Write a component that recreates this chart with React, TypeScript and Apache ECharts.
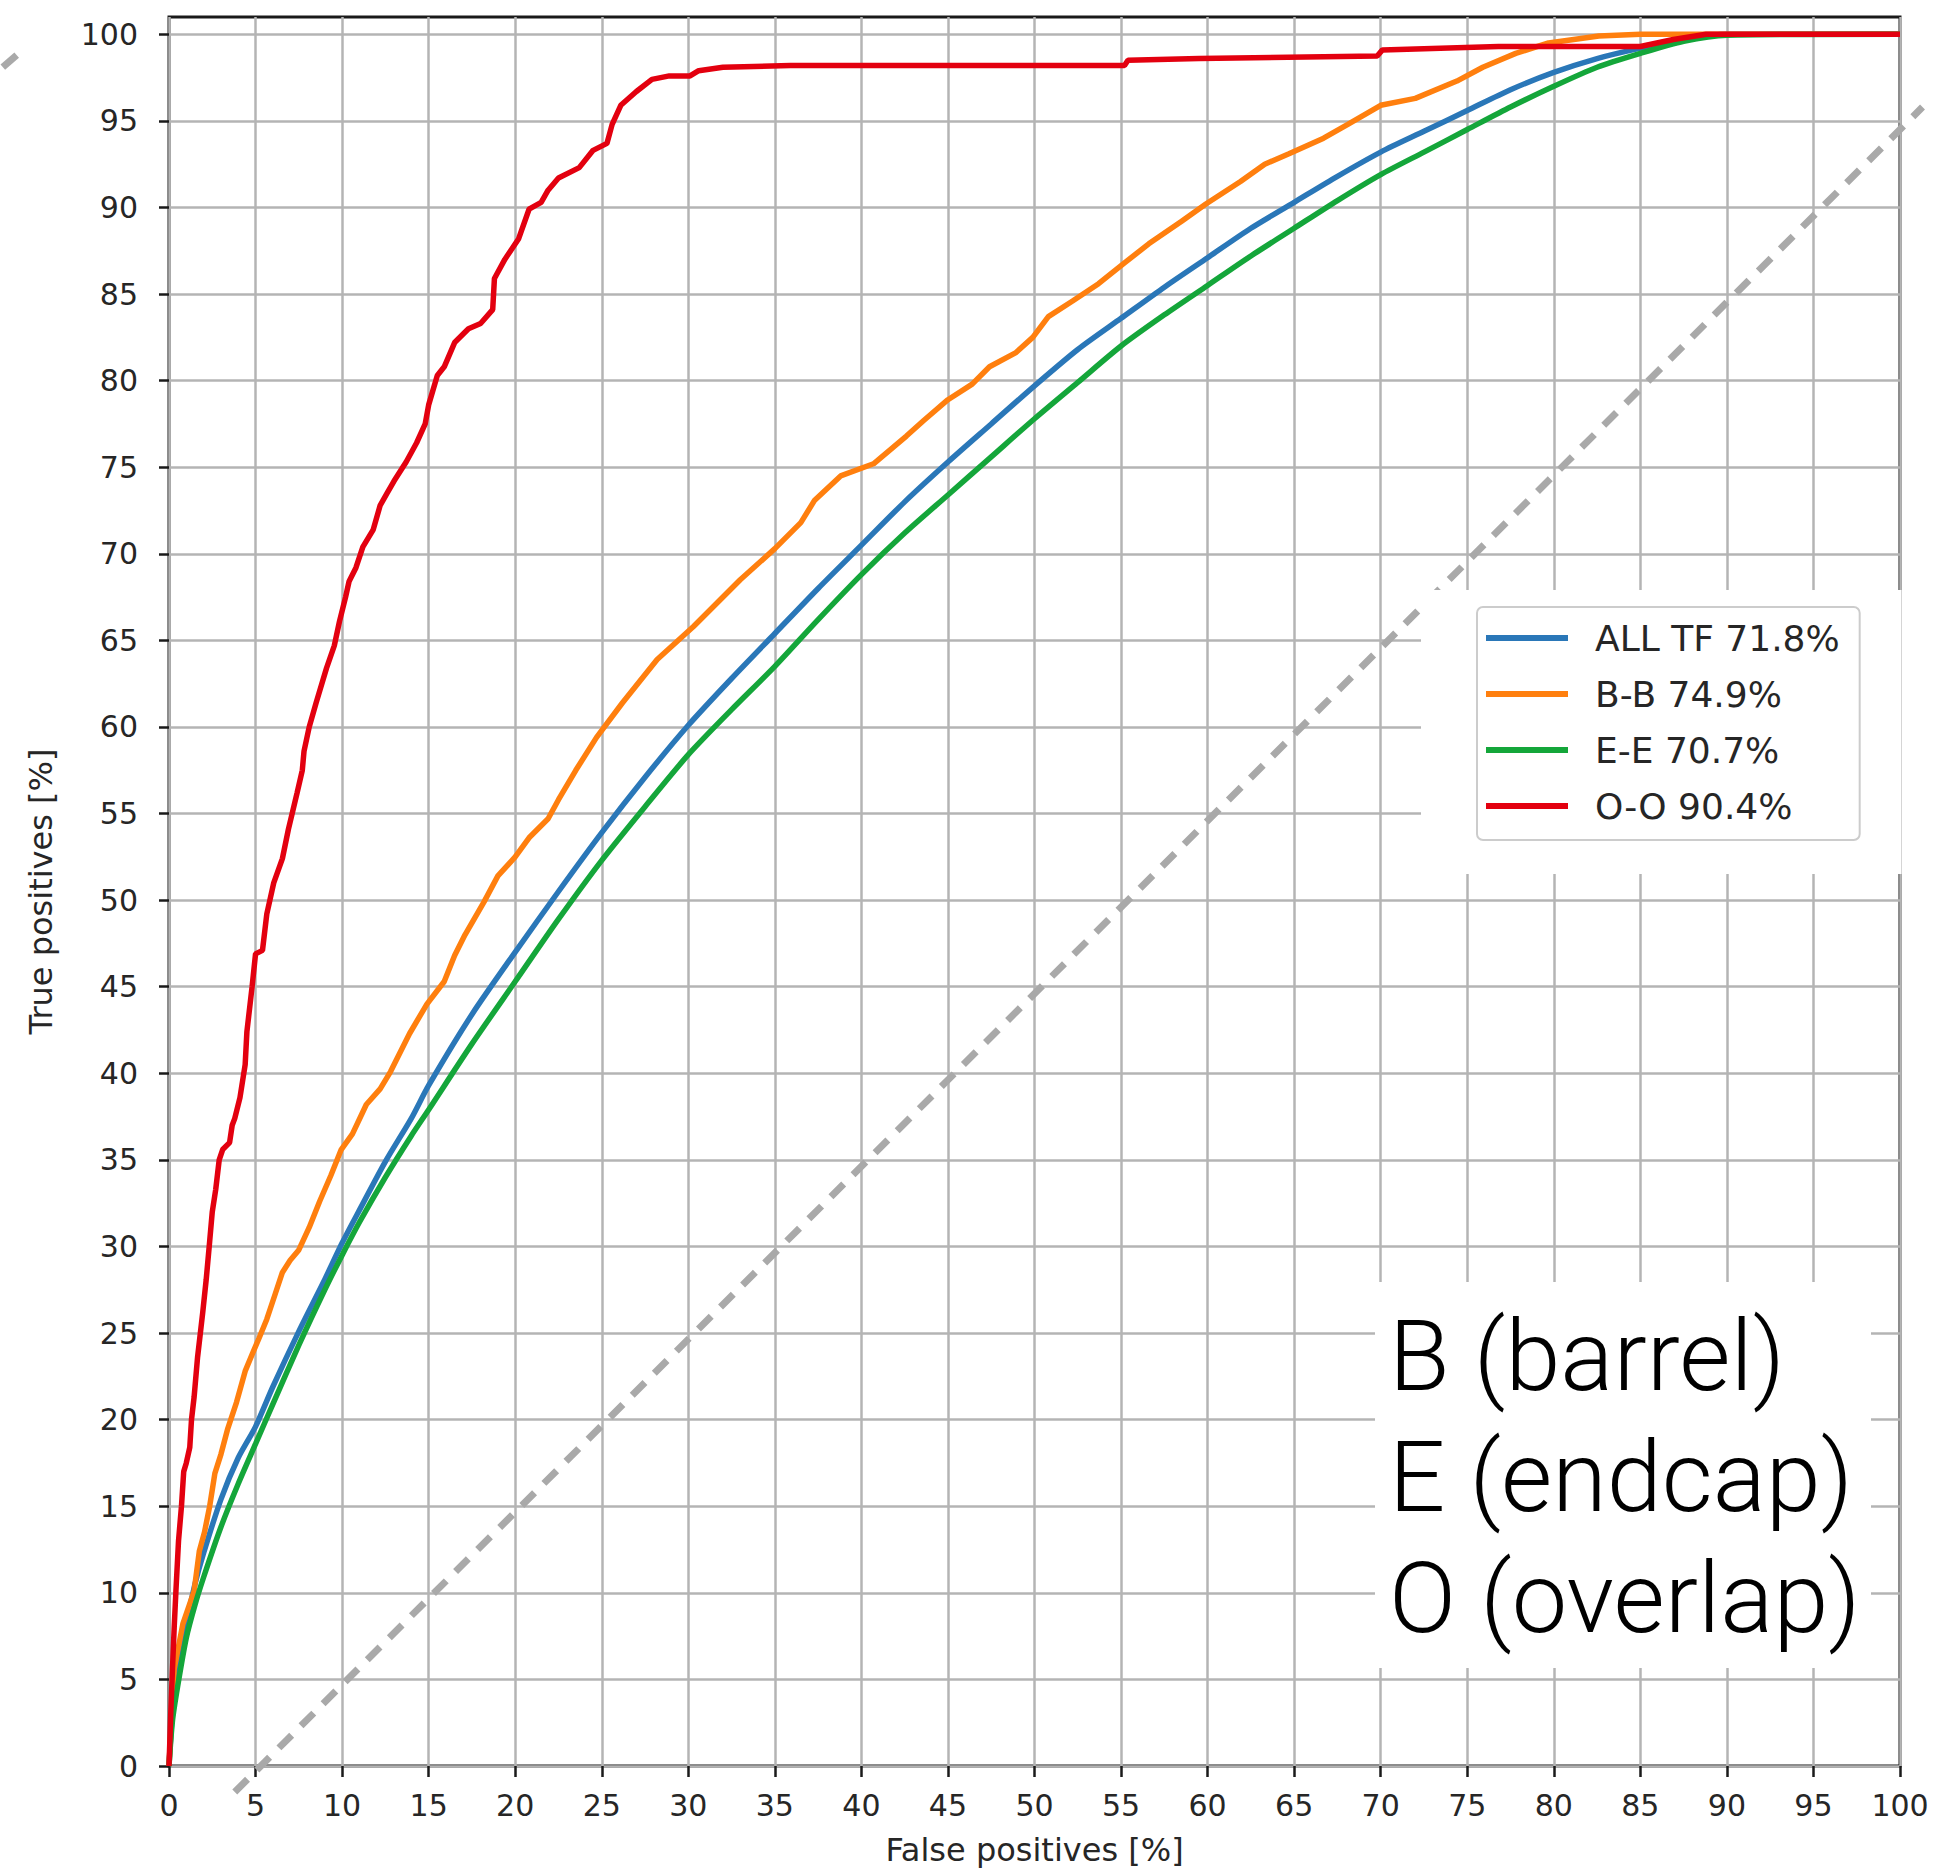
import React, { useEffect, useRef } from "react";
import * as echarts from "echarts";

const xTicks = [0, 5, 10, 15, 20, 25, 30, 35, 40, 45, 50, 55, 60, 65, 70, 75, 80, 85, 90, 95, 100];
const yTicks = [0, 5, 10, 15, 20, 25, 30, 35, 40, 45, 50, 55, 60, 65, 70, 75, 80, 85, 90, 95, 100];

const seriesNames = ["ALL TF 71.8%", "B-B 74.9%", "E-E 70.7%", "O-O 90.4%"];
const seriesColors = ["#2a77b8", "#ff7f0e", "#14a63a", "#e3000f"];
const seriesSmooth = [0.25, 0, 0.25, 0];

const allTF = [
  [0, 0], [0.2, 3], [0.5, 5.2], [1, 8.2], [1.5, 10.5], [2, 12.3], [3, 15.4], [4, 17.8], [5, 19.6],
  [6, 21.9], [7.5, 25.1], [9, 28.1], [10, 30.2], [11, 32.1], [12.5, 34.9], [14, 37.4], [15, 39.3],
  [17.5, 43.4], [20, 47.0], [22.5, 50.5], [25, 53.9], [27.5, 57.1], [30, 60.1], [32.5, 62.8],
  [35, 65.4], [37.5, 68.0], [40, 70.5], [42.5, 73.0], [45, 75.3], [47.5, 77.5], [50, 79.7],
  [52.5, 81.8], [55, 83.6], [57.5, 85.4], [60, 87.1], [62.5, 88.8], [65, 90.3], [67.5, 91.8],
  [70, 93.2], [72.5, 94.4], [75, 95.6], [77.5, 96.8], [80, 97.8], [82.5, 98.6], [85, 99.2],
  [87.5, 99.7], [90, 100], [100, 100],
];

const bb = [
  [0, 0], [0.3, 5.6], [0.8, 8.2], [1.45, 10.1], [1.75, 12.4], [2.05, 13.5], [2.35, 15], [2.65, 16.9],
  [3.0, 18], [3.4, 19.5], [3.9, 21], [4.4, 22.8], [4.9, 24], [5.2, 24.7], [5.65, 25.8], [6.15, 27.3],
  [6.55, 28.5], [7.0, 29.2], [7.5, 29.8], [8.1, 31.1], [8.7, 32.6], [9.35, 34.1], [9.95, 35.6],
  [10.6, 36.5], [11.4, 38.2], [12.2, 39.1], [12.8, 40.1], [13.9, 42.3], [14.9, 44], [15.9, 45.3],
  [16.5, 46.8], [17.1, 48], [18.2, 49.9], [19, 51.4], [20, 52.5], [20.8, 53.6], [21.9, 54.7],
  [22.5, 55.8], [23.5, 57.5], [24.7, 59.4], [26.2, 61.4], [28.2, 63.9], [30.3, 65.8], [31.7, 67.2],
  [33, 68.5], [35, 70.3], [36.5, 71.8], [37.3, 73.1], [38.8, 74.5], [40.7, 75.2], [42.6, 76.8],
  [43.6, 77.7], [45, 78.9], [46.4, 79.8], [47.4, 80.8], [48.9, 81.6], [49.9, 82.5], [50.8, 83.7],
  [52.2, 84.6], [53.7, 85.6], [55.2, 86.8], [56.6, 87.9], [58.5, 89.2], [59.9, 90.2], [61.9, 91.5],
  [63.3, 92.5], [64.7, 93.1], [66.7, 94.0], [68.1, 94.8], [70, 95.9], [72, 96.3], [74.4, 97.3],
  [75.9, 98.1], [77.8, 98.9], [79.7, 99.5], [82.6, 99.9], [85, 100], [100, 100],
];

const ee = [
  [0, 0], [0.2, 2.6], [0.5, 4.6], [1, 7.4], [1.5, 9.3], [2, 10.9], [3, 13.8], [4, 16.3], [5, 18.6],
  [6, 20.9], [7.5, 24.3], [9, 27.5], [10, 29.5], [11, 31.4], [12.5, 34.0], [14, 36.4], [15, 37.9],
  [17.5, 41.7], [20, 45.3], [22.5, 48.9], [25, 52.3], [27.5, 55.4], [30, 58.4], [32.5, 61.0],
  [35, 63.5], [37.5, 66.2], [40, 68.8], [42.5, 71.2], [45, 73.4], [47.5, 75.6], [50, 77.8],
  [52.5, 79.9], [55, 82.0], [57.5, 83.8], [60, 85.5], [62.5, 87.2], [65, 88.8], [67.5, 90.4],
  [70, 91.9], [72.5, 93.2], [75, 94.5], [77.5, 95.8], [80, 97.0], [82.5, 98.1], [85, 98.9],
  [87.5, 99.6], [90, 99.95], [100, 100],
];

const oo = [
  [0, 0], [0.1, 3], [0.2, 5.6], [0.3, 8], [0.4, 10.1], [0.55, 13], [0.72, 15], [0.85, 17], [1.0, 17.5],
  [1.2, 18.4], [1.3, 20], [1.45, 21.3], [1.65, 23.6], [1.95, 26.2], [2.15, 28.1], [2.35, 30.3],
  [2.5, 32], [2.7, 33.3], [2.9, 35], [3.1, 35.6], [3.5, 36], [3.65, 37], [3.8, 37.4], [4.1, 38.6],
  [4.4, 40.5], [4.5, 42.4], [4.8, 45], [5.0, 46.9], [5.4, 47.1], [5.65, 49.2], [6.05, 51],
  [6.55, 52.4], [6.9, 54.1], [7.4, 56.2], [7.7, 57.5], [7.8, 58.6], [8.1, 60], [8.5, 61.4],
  [9.1, 63.4], [9.55, 64.7], [9.85, 66.1], [10.2, 67.5], [10.4, 68.4], [10.8, 69.2], [11.2, 70.4],
  [11.8, 71.4], [12.2, 72.8], [12.6, 73.5], [13.0, 74.2], [13.7, 75.3], [14.3, 76.4], [14.8, 77.5],
  [15.0, 78.6], [15.5, 80.3], [15.9, 80.8], [16.5, 82.2], [17.3, 83.0], [18.0, 83.3], [18.7, 84.1],
  [18.8, 85.9], [19.4, 87.0], [20.2, 88.2], [20.8, 89.9], [21.5, 90.3], [21.9, 91.0], [22.5, 91.7],
  [23.7, 92.3], [24.5, 93.3], [25.3, 93.7], [25.6, 94.8], [26.1, 95.9], [27.0, 96.7], [27.9, 97.4],
  [28.9, 97.6], [30.1, 97.6], [30.6, 97.9], [32, 98.1], [35.9, 98.2], [55.2, 98.2], [55.4, 98.5],
  [59.5, 98.6], [69.8, 98.75], [70.1, 99.1], [76.8, 99.3], [85, 99.3], [86.9, 99.7], [88.8, 100],
  [100, 100],
];

const seriesData = [allTF, bb, ee, oo];

// overlaid grey dashed diagonal and a stray dash at top-left (data coordinates, extend past the axes)
const diagonal = [[3.8, -1.5], [101.3, 95.8]];
const strayDash = [[-9.6, 98.1], [-8.8, 98.8]];

const annotationText = "B (barrel)\nE (endcap)\nO (overlap)";

const tickFont = "'DejaVu Sans', sans-serif";

export default function App() {
  const ref = useRef<HTMLDivElement>(null);

  useEffect(() => {
    if (!ref.current) return;
    const chart = echarts.init(ref.current, null, { renderer: "svg" });

    const curveSeries = seriesNames.map((name, i) => ({
      name,
      type: "line",
      data: seriesData[i],
      showSymbol: false,
      symbol: "none",
      smooth: seriesSmooth[i],
      lineStyle: { width: 5.5, color: seriesColors[i] },
      itemStyle: { color: seriesColors[i] },
      z: 3,
    }));

    const baseGraphic: any[] = [
      {
        type: "rect",
        z: 10,
        shape: { x: 1421, y: 590, width: 480.5, height: 284 },
        style: { fill: "#ffffff" },
      },
      {
        type: "rect",
        z: 10,
        shape: { x: 1375, y: 1282, width: 496, height: 386 },
        style: { fill: "#ffffff" },
      },
      {
        type: "text",
        z: 11,
        x: 1389,
        y: 1295,
        style: {
          text: annotationText,
          fontSize: 99,
          fontFamily: "Roboto, 'Liberation Sans', sans-serif",
          fontWeight: 300,
          lineHeight: 121,
          fill: "#000000",
          verticalAlign: "top",
        },
      },
    ];

    chart.setOption({
      animation: false,
      backgroundColor: "#ffffff",
      grid: {
        left: 169,
        right: 38,
        top: 17,
        bottom: 103,
        show: true,
        borderColor: "#1a1a1a",
        borderWidth: 3,
        backgroundColor: "transparent",
      },
      xAxis: {
        type: "value",
        min: 0,
        max: 100,
        interval: 5,
        name: "False positives [%]",
        nameLocation: "middle",
        nameGap: 68,
        nameTextStyle: { fontSize: 32, fontFamily: tickFont, color: "#262626" },
        axisLine: { show: false },
        axisTick: { show: true, length: 11, inside: false, lineStyle: { color: "#1a1a1a", width: 2.5 } },
        axisLabel: {
          fontSize: 30,
          fontFamily: tickFont,
          color: "#262626",
          margin: 24,
          customValues: xTicks,
        },
        splitLine: { show: true, lineStyle: { color: "#b4b4b4", width: 2.5 } },
      },
      yAxis: {
        type: "value",
        min: 0,
        max: 101,
        interval: 5,
        name: "True positives [%]",
        nameLocation: "middle",
        nameGap: 112,
        nameRotate: 90,
        nameTextStyle: { fontSize: 32, fontFamily: tickFont, color: "#262626" },
        axisLine: { show: false },
        axisTick: {
          show: true,
          length: 10,
          inside: false,
          lineStyle: { color: "#1a1a1a", width: 2.5 },
          customValues: yTicks,
        },
        axisLabel: {
          fontSize: 30,
          fontFamily: tickFont,
          color: "#262626",
          margin: 31,
          customValues: yTicks,
        },
        splitLine: { show: true, lineStyle: { color: "#b4b4b4", width: 2.5 } },
      },
      legend: {
        data: seriesNames,
        orient: "vertical",
        left: 1477,
        top: 607,
        z: 20,
        icon: "rect",
        itemWidth: 82,
        itemHeight: 6,
        itemGap: 16,
        padding: [11, 20, 14, 9],
        backgroundColor: "#ffffff",
        borderColor: "#cccccc",
        borderWidth: 2,
        borderRadius: 6,
        textStyle: {
          fontSize: 36,
          fontFamily: tickFont,
          color: "#262626",
          lineHeight: 40,
          padding: [0, 0, 0, 22],
        },
      },
      graphic: baseGraphic,
      series: curveSeries,
    });

    // decorative lines extend beyond the axes: convert data points through the chart's own scales
    const toPx = (p: number[]) => chart.convertToPixel({ gridIndex: 0 }, p) as number[];
    const d0 = toPx(diagonal[0]);
    const d1 = toPx(diagonal[1]);
    const s0 = toPx(strayDash[0]);
    const s1 = toPx(strayDash[1]);

    chart.setOption({
      graphic: [
        ...baseGraphic,
        {
          type: "line",
          z: 5,
          silent: true,
          shape: { x1: d0[0], y1: d0[1], x2: d1[0], y2: d1[1] },
          style: { stroke: "#a9a9a9", lineWidth: 7, lineDash: [18, 13.2], lineCap: "butt" },
        },
        {
          type: "line",
          z: 5,
          silent: true,
          shape: { x1: s0[0], y1: s0[1], x2: s1[0], y2: s1[1] },
          style: { stroke: "#a9a9a9", lineWidth: 7, lineCap: "butt" },
        },
      ],
    });

    return () => chart.dispose();
  }, []);

  return (
    <div
      ref={ref}
      style={{ position: "fixed", left: 0, top: 0, width: 1938, height: 1871, background: "#fff" }}
    />
  );
}
